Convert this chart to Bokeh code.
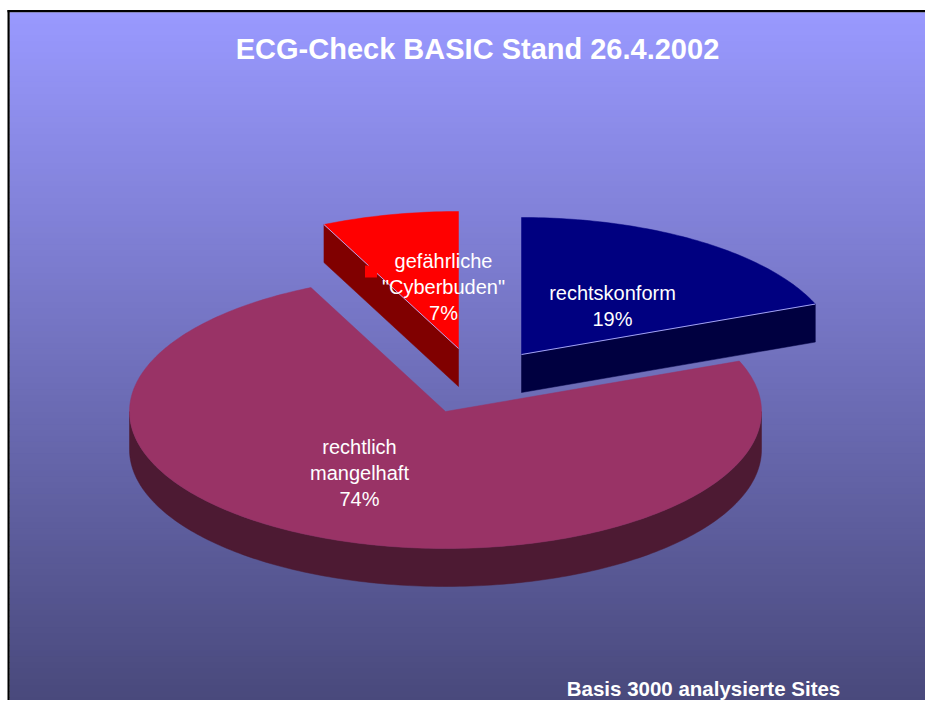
import numpy as np
from bokeh.plotting import figure
from bokeh.models import Range1d
from bokeh.core.properties import value
from bokeh.embed import file_html
from bokeh.resources import INLINE

# ---------------- data ----------------
categories = ["rechtskonform", "rechtlich mangelhaft", "gefährliche \"Cyberbuden\""]
label_lines = [["rechtskonform"], ["rechtlich", "mangelhaft"], ["gefährliche", "\"Cyberbuden\""]]
shares = [19, 74, 7]
title_text = "ECG-Check BASIC Stand 26.4.2002"
footnote_text = "Basis 3000 analysierte Sites"

# ---------------- style / layout ----------------
W, H = 925, 700
CX, CY, RX, RY, DEPTH = 445, 411, 316, 137, 38
START = 90.0                                # first slice starts at 12 o'clock, clockwise
top_colors = ["#000080", "#993366", "#ff0000"]
side_colors = ["#000040", "#4d1a33", "#800000"]
explode = [(76, -57), (0, 0), (13, -63)]    # pixel offsets of exploded slices
label_anchor = [(612, 305), (359, 472), (443, 286)]
LINE_GAP = 26
FONT = value("Liberation Sans")
BG_TOP = np.array([153, 153, 255])
BG_BOT = np.array([72, 72, 122])
FR_L, FR_T, BW = 7, 9.5, 2.2                # outer frame of the chart area

p = figure(width=W, height=H, x_range=Range1d(0, W), y_range=Range1d(H, 0),
           x_axis_type=None, y_axis_type=None, output_backend="svg",
           toolbar_location=None, min_border=0, border_fill_color="white",
           outline_line_color=None, background_fill_color="white")

# gradient background of the chart area
G0, G1 = FR_T + BW, 708
n = 120
edges = np.linspace(G0, G1, n + 1)
cols = []
for i in range(n):
    t = (i + 0.5) / n
    c = (BG_TOP * (1 - t) + BG_BOT * t).round().astype(int)
    cols.append("#%02x%02x%02x" % tuple(c))
p.quad(left=FR_L + BW, right=W, top=edges[:-1], bottom=edges[1:] + 1.0,
       fill_color=cols, line_color=None)
# black frame (left and top visible)
p.quad(left=[FR_L, FR_L], right=[W, FR_L + BW], top=[FR_T, FR_T],
       bottom=[FR_T + BW, H], fill_color="black", line_color=None)


def rim(th_deg, ox, oy, dz=0.0):
    th = np.radians(th_deg)
    return CX + ox + RX * np.cos(th), CY + oy - RY * np.sin(th) + dz


# slice angles (counter-clockwise degrees, a0 < a1)
slices = []
cum = 0.0
for i, s in enumerate(shares):
    a1 = START - cum * 3.6
    a0 = a1 - s * 3.6
    cum += s
    ox, oy = explode[i]
    mid = np.radians((a0 + a1) / 2)
    key = oy - 0.5 * RY * np.sin(mid)
    slices.append((key, i, a0, a1, ox, oy))
slices.sort()

for key, i, a0, a1, ox, oy in slices:
    ax, ay = CX + ox, CY + oy
    vis_edges = ((a0, np.cos(np.radians(a0)) > 1e-6), (a1, np.cos(np.radians(a1)) < -1e-6))
    # visible radial faces
    for ang, vis in vis_edges:
        if vis:
            rx_, ry_ = rim(ang, ox, oy)
            p.patch([ax, rx_, rx_, ax], [ay, ry_, ry_ + DEPTH, ay + DEPTH],
                    fill_color=side_colors[i], line_color=side_colors[i], line_width=0.5)
    # visible outer side
    for k in range(-2, 2):
        lo, hi = max(a0, -180 + 360 * k), min(a1, 360 * k)
        if hi - lo > 0.01:
            th = np.linspace(lo, hi, max(8, int(hi - lo)))
            xs, ys = rim(th, ox, oy)
            p.patch(list(xs) + list(xs[::-1]), list(ys) + list((ys + DEPTH)[::-1]),
                    fill_color=side_colors[i], line_color=side_colors[i], line_width=0.5)
    # top face
    th = np.linspace(a0, a1, max(8, int(a1 - a0)))
    xs, ys = rim(th, ox, oy)
    p.patch([ax] + list(xs), [ay] + list(ys), fill_color=top_colors[i],
            line_color=top_colors[i], line_width=0.5)
    # light highlight along visible top/side edge
    for ang, vis in vis_edges:
        if vis:
            rx_, ry_ = rim(ang, ox, oy)
            p.line([ax, rx_], [ay, ry_], line_color="#b4b4ff", line_width=1, line_alpha=0.9)

# small red marker next to the red label (as in the original)
ri = 2
p.rect(x=[label_anchor[ri][0] - 72.5], y=[label_anchor[ri][1] - 15], width=12, height=12,
       fill_color=top_colors[ri], line_color=None)

# labels
lx, ly, lt = [], [], []
for i in range(len(shares)):
    lines = label_lines[i] + [f"{shares[i]}%"]
    cx, cy = label_anchor[i]
    m = len(lines)
    for j, t in enumerate(lines):
        lx.append(cx)
        ly.append(cy + (j - (m - 1) / 2) * LINE_GAP)
        lt.append(t)
p.text(x=lx, y=ly, text=lt, text_align="center", text_baseline="middle",
       text_font=FONT, text_font_size="20px", text_color="white")

p.text(x=[477], y=[48], text=[title_text], text_align="center", text_baseline="middle",
       text_font=FONT, text_font_size="29px", text_font_style="bold", text_color="white")
p.text(x=[703], y=[688], text=[footnote_text], text_align="center", text_baseline="middle",
       text_font=FONT, text_font_size="20.5px", text_font_style="bold", text_color="white")

open("out.html", "w").write(file_html(p, INLINE))
